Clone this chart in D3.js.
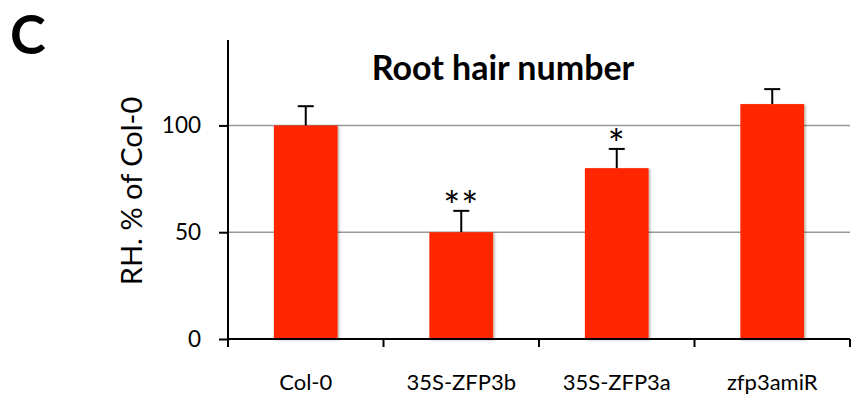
<!DOCTYPE html>
<html>
<head>
<meta charset="utf-8">
<script src="https://cdn.jsdelivr.net/npm/d3@7"></script>
<style>
  html, body { margin: 0; padding: 0; background: #fff; }
  svg { display: block; }
  text { font-family: Lato, "Open Sans", sans-serif; fill: #000; }
</style>
</head>
<body>
<svg id="chart" width="852" height="396"></svg>
<script>
// Root hair number relative to Col-0 (%), mean and error
const categories = ["Col-0", "35S-ZFP3b", "35S-ZFP3a", "zfp3amiR"];
const values = [100, 50, 80, 110];
const errors = [9, 10, 9, 7];
const significance = ["", "**", "*", ""];
const yTicks = [0, 50, 100];

const svg = d3.select("#chart");
const margin = { left: 228, right: 2, top: 40, bottom: 57 };
const W = 852, H = 396;

const x = d3.scaleBand()
  .domain(categories)
  .range([margin.left, W - margin.right])
  .paddingInner(0.59)
  .paddingOuter(0.295);

const y = d3.scaleLinear()
  .domain([0, 140])
  .range([H - margin.bottom, margin.top]);

// soft shadow under the bars
const defs = svg.append("defs");
const f = defs.append("filter").attr("id", "shadow")
  .attr("x", "-10%").attr("y", "-10%").attr("width", "130%").attr("height", "130%");
f.append("feDropShadow").attr("dx", 1.5).attr("dy", 1).attr("stdDeviation", 1)
  .attr("flood-color", "#000").attr("flood-opacity", 0.3);

// gridlines
svg.append("g")
  .selectAll("line")
  .data(yTicks.filter(d => d > 0))
  .join("line")
  .attr("x1", margin.left).attr("x2", W - margin.right)
  .attr("y1", d => y(d)).attr("y2", d => y(d))
  .attr("stroke", "#999").attr("stroke-width", 1.5);

// bars
svg.append("g")
  .selectAll("rect")
  .data(categories)
  .join("rect")
  .attr("x", d => x(d))
  .attr("width", x.bandwidth())
  .attr("y", (d, i) => y(values[i]))
  .attr("height", (d, i) => y(0) - y(values[i]))
  .attr("fill", "#ff2600")
  .attr("filter", "url(#shadow)");

// error bars (upper half only)
const eb = svg.append("g").attr("stroke", "#000").attr("stroke-width", 2);
categories.forEach((c, i) => {
  const cx = x(c) + x.bandwidth() / 2;
  eb.append("line")
    .attr("x1", cx).attr("x2", cx)
    .attr("y1", y(values[i])).attr("y2", y(values[i] + errors[i]));
  eb.append("line")
    .attr("x1", cx - 8).attr("x2", cx + 8)
    .attr("y1", y(values[i] + errors[i])).attr("y2", y(values[i] + errors[i]));
});

// significance marks
svg.append("g")
  .selectAll("text")
  .data(categories)
  .join("text")
  .attr("x", d => x(d) + x.bandwidth() / 2)
  .attr("y", (d, i) => y(values[i] + errors[i]) + 10)
  .attr("text-anchor", "middle")
  .attr("font-size", 40)
  .attr("letter-spacing", 1)
  .text((d, i) => significance[i]);

// y axis
const yAxis = svg.append("g")
  .attr("transform", `translate(${margin.left},0)`)
  .call(d3.axisLeft(y).tickValues(yTicks).tickSize(9).tickPadding(18).tickSizeOuter(0));
yAxis.select(".domain").attr("stroke-width", 2).attr("d", `M0,${y(0)}V${margin.top}`);
yAxis.selectAll(".tick line").attr("stroke-width", 2);
yAxis.selectAll("text").attr("font-size", 22.5).attr("font-family", "Lato, sans-serif");

// x axis with ticks at category boundaries
const xAxisG = svg.append("g").attr("transform", `translate(0,${y(0)})`);
xAxisG.append("line")
  .attr("x1", margin.left).attr("x2", W - margin.right)
  .attr("stroke", "#000").attr("stroke-width", 2);
const step = x.step();
const bounds = d3.range(categories.length + 1).map(i => x(categories[0]) - x.paddingOuter() * step + i * step);
xAxisG.selectAll(".xt")
  .data(bounds)
  .join("line")
  .attr("class", "xt")
  .attr("x1", d => d).attr("x2", d => d)
  .attr("y1", 0).attr("y2", 8)
  .attr("stroke", "#000").attr("stroke-width", 2);
xAxisG.selectAll(".xl")
  .data(categories)
  .join("text")
  .attr("class", "xl")
  .attr("x", d => x(d) + x.bandwidth() / 2)
  .attr("y", 51)
  .attr("text-anchor", "middle")
  .attr("font-size", 22)
  .text(d => d);

// y axis title
svg.append("text")
  .attr("transform", `translate(142,191) rotate(-90)`)
  .attr("text-anchor", "middle")
  .attr("font-size", 29)
  .text("RH. % of Col-0");

// chart title
svg.append("text")
  .attr("x", 503).attr("y", 80)
  .attr("text-anchor", "middle")
  .attr("font-size", 34)
  .attr("font-weight", "bold")
  .text("Root hair number");

// panel letter
svg.append("text")
  .attr("x", 10).attr("y", 54)
  .attr("font-size", 54)
  .attr("font-weight", "bold")
  .text("C");
</script>
</body>
</html>
